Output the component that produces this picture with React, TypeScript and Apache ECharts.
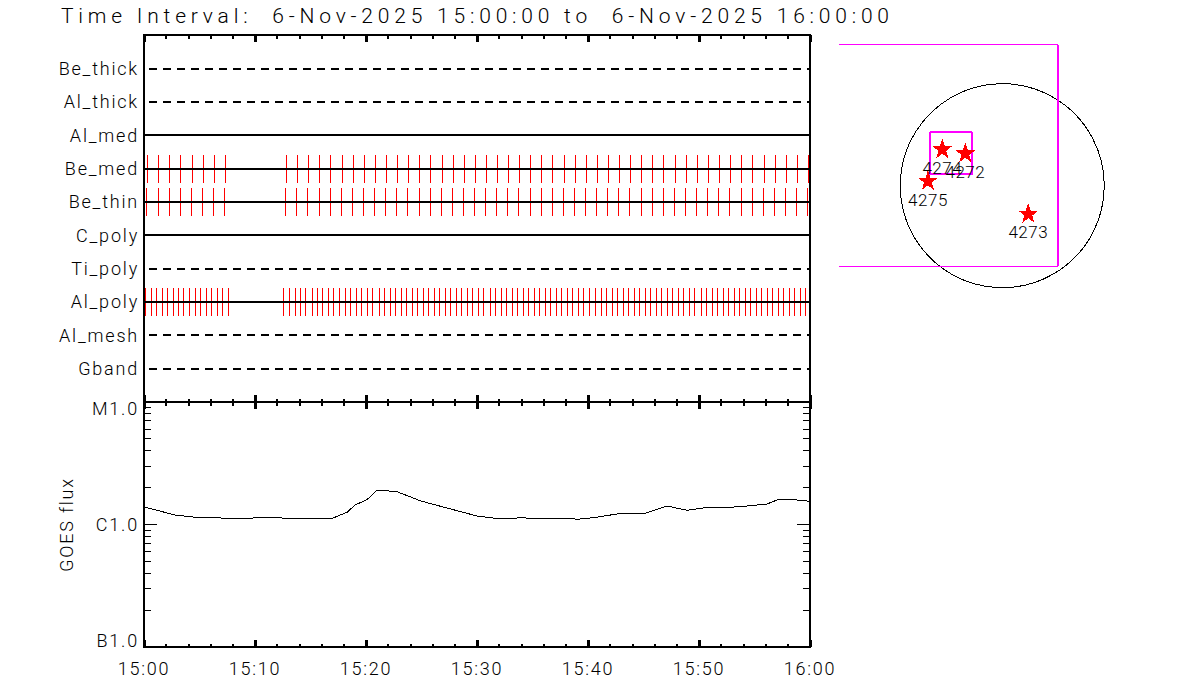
import React, { useEffect, useRef } from "react";
import * as echarts from "echarts";

const titleText = "Time Interval:  6-Nov-2025 15:00:00 to  6-Nov-2025 16:00:00";
const channelNames = ["Gband", "Al_mesh", "Al_poly", "Ti_poly", "C_poly", "Be_thin", "Be_med", "Al_med", "Al_thick", "Be_thick"];
const dashedChannels = ["Gband", "Al_mesh", "Ti_poly", "Al_thick", "Be_thick"];
const timeLabels = ["15:00", "15:10", "15:20", "15:30", "15:40", "15:50", "16:00"];
const fluxLabels = ["B1.0", "C1.0", "M1.0"];
const fluxLabelStyles = ["low", "mid", "high"];

// Exposure times, minutes after 15:00
const beMedTimes = [0.32, 1.31, 2.3, 3.29, 4.37, 5.36, 6.35, 7.34, 12.84, 13.83, 14.82, 15.81, 16.8, 17.88, 18.87, 19.87, 20.86, 21.85, 22.84, 23.83, 24.82, 25.81, 26.89, 27.88, 28.87, 29.87, 30.86, 31.85, 32.84, 33.83, 34.82, 35.81, 36.8, 37.88, 38.87, 39.87, 40.86, 41.85, 42.84, 43.83, 44.82, 45.81, 46.8, 47.88, 48.87, 49.87, 50.86, 51.85, 52.84, 53.83, 54.82, 55.9, 56.89, 57.88, 58.87, 59.87];
const beThinTimes = [0.23, 1.31, 2.3, 3.29, 4.28, 5.27, 6.26, 7.25, 12.75, 13.74, 14.73, 15.81, 16.8, 17.79, 18.78, 19.77, 20.77, 21.76, 22.75, 23.74, 24.82, 25.81, 26.8, 27.79, 28.78, 29.77, 30.77, 31.76, 32.75, 33.74, 34.82, 35.81, 36.8, 37.79, 38.78, 39.77, 40.77, 41.76, 42.75, 43.74, 44.82, 45.81, 46.8, 47.79, 48.78, 49.77, 50.77, 51.76, 52.75, 53.83, 54.82, 55.81, 56.8, 57.79, 58.78, 59.77];
const alPolyTimes = [0.14, 0.68, 1.13, 1.67, 2.12, 2.66, 3.11, 3.56, 4.1, 4.64, 5.09, 5.63, 6.08, 6.62, 7.07, 7.61, 12.57, 13.11, 13.65, 14.1, 14.55, 15.18, 15.63, 16.08, 16.62, 17.07, 17.61, 18.15, 18.6, 19.14, 19.59, 20.14, 20.59, 21.22, 21.67, 22.21, 22.66, 23.2, 23.65, 24.19, 24.64, 25.18, 25.63, 26.17, 26.62, 27.16, 27.61, 28.15, 28.6, 29.14, 29.59, 30.14, 30.59, 31.22, 31.67, 32.21, 32.66, 33.2, 33.65, 34.19, 34.64, 35.18, 35.63, 36.17, 36.62, 37.16, 37.61, 38.15, 38.6, 39.14, 39.59, 40.14, 40.68, 41.22, 41.67, 42.21, 42.66, 43.2, 43.65, 44.19, 44.64, 45.18, 45.63, 46.17, 46.62, 47.16, 47.61, 48.15, 48.6, 49.14, 49.59, 50.23, 50.68, 51.22, 51.67, 52.21, 52.66, 53.2, 53.65, 54.19, 54.64, 55.18, 55.63, 56.17, 56.62, 57.16, 57.61, 58.15, 58.6, 59.14, 59.59];

const goesTimes = [0, 2.79, 4.41, 6.4, 7.75, 9.55, 9.82, 12.43, 12.88, 15.41, 17.03, 18.29, 19.01, 20.09, 20.99, 22.79, 23.96, 24.86, 26.04, 30.0, 31.62, 33.42, 34.05, 34.59, 38.38, 39.01, 40.45, 42.61, 45.14, 47.12, 48.92, 50.81, 53.42, 56.13, 57.03, 57.93, 60];
const goesFlux = [1.39e-6, 1.196e-6, 1.151e-6, 1.145e-6, 1.109e-6, 1.109e-6, 1.13e-6, 1.13e-6, 1.109e-6, 1.109e-6, 1.13e-6, 1.258e-6, 1.443e-6, 1.594e-6, 1.913e-6, 1.853e-6, 1.686e-6, 1.564e-6, 1.462e-6, 1.173e-6, 1.124e-6, 1.124e-6, 1.145e-6, 1.124e-6, 1.124e-6, 1.103e-6, 1.136e-6, 1.218e-6, 1.234e-6, 1.416e-6, 1.306e-6, 1.382e-6, 1.39e-6, 1.47e-6, 1.585e-6, 1.615e-6, 1.547e-6];
const fluxMajorTicks = [1e-6];
const fluxMinorTicks = [2e-7, 3e-7, 4e-7, 5e-7, 6e-7, 7e-7, 8e-7, 9e-7, 2e-6, 3e-6, 4e-6, 5e-6, 6e-6, 7e-6, 8e-6, 9e-6];

// Solar disk panel, arcsec
const solarRadius = 969;
const regionNames = ["4274", "4272", "4275", "4273"];
const regionX = [-570, -351, -706, 247];
const regionY = [355, 317, 54, -259];
const fovOuterX = [-1550, 529, 529, -1550];
const fovOuterY = [1340, 1340, -766, -766];
const fovOuterRightX = [529, 529];
const fovOuterRightY = [1340, -766];
const fovInnerX = [-687, -285, -285, -687, -687];
const fovInnerY = [507, 507, 108, 108, 507];

const FONT = "Roboto";
const WEIGHT = 300;
const STAR = "path://M50 0 L61.8 35 L97.6 35 L68.8 57.3 L79.4 91 L50 70 L20.6 91 L31.2 57.3 L2.4 35 L38.2 35 Z";
const zip = (a: number[], b: number[]) => a.map((v, i) => [v, b[i]]);
const labelFont = { fontFamily: FONT, fontWeight: WEIGHT, fontSize: 18, color: "#000" };

function redTicks(times: number[], channel: string) {
  const y = channelNames.indexOf(channel) + 1;
  return {
    type: "custom", xAxisIndex: 0, yAxisIndex: 0, z: 2, silent: true,
    data: times.map((t) => [t, y]),
    renderItem: (_: any, api: any) => {
      const c = api.coord([api.value(0), api.value(1)]);
      const h = api.size([0, 0.84])[1];
      return { type: "rect", shape: { x: Math.floor(c[0]), y: c[1] - h / 2, width: 1, height: h }, style: { fill: "#ff0000" } };
    },
  };
}

function fluxTicks(values: number[], len: number) {
  return {
    type: "custom", xAxisIndex: 3, yAxisIndex: 2, z: 4, silent: true, clip: false,
    data: values.map((v) => [0, v]),
    renderItem: (_: any, api: any) => {
      const l = api.coord([0, api.value(1)]);
      const r = api.coord([60, api.value(1)]);
      return {
        type: "group",
        children: [
          { type: "line", shape: { x1: l[0], y1: l[1], x2: l[0] + len, y2: l[1] }, style: { stroke: "#000", lineWidth: 1 } },
          { type: "line", shape: { x1: r[0], y1: r[1], x2: r[0] - len, y2: r[1] }, style: { stroke: "#000", lineWidth: 1 } },
        ],
      };
    },
  };
}

function timeAxis(gridIndex: number, position: string, labels: boolean) {
  return {
    type: "value", gridIndex, position, min: 0, max: 60, interval: 10,
    axisLine: { show: true, onZero: false, lineStyle: { color: "#000", width: 2 } },
    axisTick: { show: true, inside: true, length: 7, lineStyle: { color: "#000", width: 3 } },
    minorTick: { show: true, splitNumber: 5, length: 3.5, lineStyle: { color: "#000", width: 2 } },
    splitLine: { show: false },
    axisLabel: labels
      ? { show: true, margin: 12, ...labelFont, formatter: (v: number) => timeLabels[Math.round(v / 10)] }
      : { show: false },
  };
}

const frameLine = { show: true, onZero: false, lineStyle: { color: "#000", width: 2 } };

const option: any = {
  animation: false,
  backgroundColor: "#fff",
  title: { text: titleText, left: 56, top: 0, textStyle: { fontFamily: FONT, fontSize: 21, fontWeight: WEIGHT, color: "#000" } },
  grid: [
    { left: 144, top: 35.2, width: 666, height: 366.8 },
    { left: 144, top: 402, width: 666, height: 245 },
    { left: 839.14, top: 38.33, width: 268.42, height: 252.63 },
  ],
  xAxis: [
    timeAxis(0, "bottom", false),
    timeAxis(0, "top", false),
    timeAxis(1, "top", false),
    timeAxis(1, "bottom", true),
    { type: "value", gridIndex: 2, min: -1550, max: 1000, show: false },
  ],
  yAxis: [
    {
      type: "value", gridIndex: 0, position: "left", min: 0, max: 11, interval: 1,
      axisLine: frameLine, axisTick: { show: false }, splitLine: { show: false },
      axisLabel: { margin: 5, ...labelFont, formatter: (v: number) => channelNames[v - 1] ?? "" },
    },
    {
      type: "value", gridIndex: 0, position: "right", min: 0, max: 11, interval: 1,
      axisLine: frameLine, axisTick: { show: false }, splitLine: { show: false }, axisLabel: { show: false },
    },
    {
      type: "log", logBase: 10, gridIndex: 1, position: "left", min: 1e-7, max: 1e-5,
      name: "GOES flux", nameLocation: "middle", nameGap: 69, nameRotate: 90,
      nameTextStyle: labelFont,
      axisLine: frameLine, axisTick: { show: false }, splitLine: { show: false }, minorTick: { show: false }, minorSplitLine: { show: false },
      axisLabel: {
        margin: 5, ...labelFont,
        formatter: (v: number) => {
          const i = Math.round(Math.log10(v)) + 7;
          return fluxLabels[i] ? `{${fluxLabelStyles[i]}|${fluxLabels[i]}}` : "";
        },
        rich: {
          low: { ...labelFont, padding: [0, 0, 14, 0] },
          mid: { ...labelFont },
          high: { ...labelFont, padding: [12, 0, 0, 0] },
        },
      },
    },
    {
      type: "log", logBase: 10, gridIndex: 1, position: "right", min: 1e-7, max: 1e-5,
      axisLine: frameLine, axisTick: { show: false }, splitLine: { show: false }, axisLabel: { show: false },
    },
    { type: "value", gridIndex: 2, min: -1000, max: 1400, show: false },
  ],
  series: [
    ...channelNames.map((name, i) => {
      const dashed = dashedChannels.includes(name);
      return {
        type: "line", name, xAxisIndex: 0, yAxisIndex: 0, z: 3, silent: true, showSymbol: false, symbol: "none",
        data: [[0, i + 1], [60, i + 1]],
        lineStyle: { color: "#000", width: 2, type: dashed ? [8, 6] : "solid", dashOffset: dashed ? 8.5 : 0 },
      };
    }),
    redTicks(beMedTimes, "Be_med"),
    redTicks(beThinTimes, "Be_thin"),
    redTicks(alPolyTimes, "Al_poly"),
    {
      type: "line", name: "GOES", xAxisIndex: 3, yAxisIndex: 2, z: 3, silent: true, showSymbol: false, symbol: "none",
      data: zip(goesTimes, goesFlux), lineStyle: { color: "#000", width: 1 },
    },
    fluxTicks(fluxMajorTicks, 13),
    fluxTicks(fluxMinorTicks, 7),
    {
      type: "custom", xAxisIndex: 4, yAxisIndex: 4, z: 2, silent: true, clip: false,
      data: [[0, 0, solarRadius]],
      renderItem: (_: any, api: any) => {
        const c = api.coord([api.value(0), api.value(1)]);
        const r = api.size([api.value(2), 0])[0];
        return { type: "circle", shape: { cx: c[0], cy: c[1], r }, style: { stroke: "#000", fill: "none", lineWidth: 1 } };
      },
    },
    {
      type: "line", name: "FOV outer", xAxisIndex: 4, yAxisIndex: 4, z: 3, silent: true, showSymbol: false, symbol: "none", clip: false,
      data: zip(fovOuterX, fovOuterY), lineStyle: { color: "#ff00ff", width: 1 },
    },
    {
      type: "line", name: "FOV outer right", xAxisIndex: 4, yAxisIndex: 4, z: 3, silent: true, showSymbol: false, symbol: "none", clip: false,
      data: zip(fovOuterRightX, fovOuterRightY), lineStyle: { color: "#ff00ff", width: 2 },
    },
    {
      type: "line", name: "FOV inner", xAxisIndex: 4, yAxisIndex: 4, z: 3, silent: true, showSymbol: false, symbol: "none", clip: false,
      data: zip(fovInnerX, fovInnerY), lineStyle: { color: "#ff00ff", width: 2 },
    },
    {
      type: "scatter", name: "Regions", xAxisIndex: 4, yAxisIndex: 4, z: 4, silent: true, clip: false,
      symbol: STAR, symbolSize: 20,
      itemStyle: { color: "#ff0000", opacity: 1 },
      data: regionNames.map((name, i) => ({ name, value: [regionX[i], regionY[i]] })),
      label: { show: true, position: "bottom", distance: 1, fontFamily: FONT, fontWeight: WEIGHT, fontSize: 17, color: "#000", formatter: (p: any) => p.name },
    },
  ],
};

export default function App() {
  const ref = useRef<HTMLDivElement>(null);
  useEffect(() => {
    if (!ref.current) return;
    const chart = echarts.init(ref.current, undefined, { renderer: "svg" });
    chart.setOption(option);
    return () => chart.dispose();
  }, []);
  return (
    <>
      <style>{`body{margin:0}
#sxi-chart svg path, #sxi-chart svg line, #sxi-chart svg rect, #sxi-chart svg circle, #sxi-chart svg polyline {shape-rendering:crispEdges}
#sxi-chart svg text[style*="18px"] {letter-spacing:1.8px}
#sxi-chart svg text[style*="17px"] {letter-spacing:0.5px}
#sxi-chart svg text[style*="21px"] {letter-spacing:4.8px}`}</style>
      <div id="sxi-chart" ref={ref} style={{ position: "absolute", left: 0, top: 0, width: 1200, height: 700 }} />
    </>
  );
}
